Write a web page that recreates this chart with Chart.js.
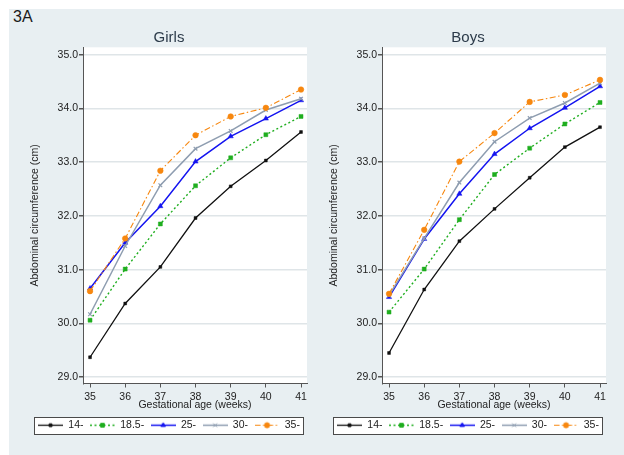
<!DOCTYPE html>
<html>
<head>
<meta charset="utf-8">
<script src="https://cdn.jsdelivr.net/npm/chart.js@4/dist/chart.umd.min.js"></script>
<style>
body { margin:0; background:#fff; width:624px; height:455px; overflow:hidden; position:relative; font-family:"Liberation Sans", Arial, sans-serif; }
#panel { position:absolute; left:9px; top:9px; width:615px; height:446px; background:#e8eff2; }
#tag { position:absolute; left:13px; top:8px; font-size:16px; color:#1a1a1a; }
canvas { position:absolute; top:9px; }
#girls { left:9px; }
#boys { left:308px; }
</style>
</head>
<body>
<div id="panel"></div>
<div id="tag">3A</div>
<canvas id="girls" width="307" height="446"></canvas>
<canvas id="boys" width="307" height="446"></canvas>
<script>
// gestational age on x, abdominal circumference (cm) on y
let weeks = [35, 36, 37, 38, 39, 40, 41];
let yTicks = [29, 30, 31, 32, 33, 34, 35];
let bmiGroups = ['14-', '18.5-', '25-', '30-', '35-'];

let girls14  = [29.37, 30.37, 31.05, 31.96, 32.55, 33.03, 33.56];
let girls185 = [30.06, 31.01, 31.85, 32.56, 33.08, 33.51, 33.85];
let girls25  = [30.65, 31.50, 32.18, 33.01, 33.48, 33.81, 34.15];
let girls30  = [30.17, 31.44, 32.57, 33.25, 33.58, 33.97, 34.18];
let girls35  = [30.60, 31.58, 32.84, 33.50, 33.85, 34.01, 34.35];

let boys14  = [29.45, 30.63, 31.53, 32.13, 32.71, 33.28, 33.65];
let boys185 = [30.21, 31.01, 31.93, 32.77, 33.26, 33.71, 34.11];
let boys25  = [30.49, 31.57, 32.41, 33.15, 33.63, 34.01, 34.41];
let boys30  = [30.52, 31.58, 32.62, 33.38, 33.82, 34.10, 34.47];
let boys35  = [30.55, 31.74, 33.01, 33.54, 34.12, 34.25, 34.53];

let styles = [
    {color: '#111111', dash: [], marker: 'rect', radius: 2, width: 1.3},
    {color: '#1fae1f', dash: [2, 2.5], marker: 'rect', radius: 2.8, width: 1.4},
    {color: '#1414f0', dash: [], marker: 'triangle', radius: 3, width: 1.5},
    {color: '#8e9db0', dash: [], marker: 'crossRot', radius: 2.6, width: 1.5},
    {color: '#f7870f', dash: [6, 2.5, 1.5, 2.5], marker: 'circle', radius: 2.8, width: 1.1}
];

const font = {family: '"Liberation Sans", Arial, sans-serif', size: 10.5};
const textColor = '#222';

function swatch(st) {
    var c = document.createElement('canvas');
    c.width = 25;
    c.height = 11;
    var g = c.getContext('2d');
    g.strokeStyle = st.color;
    g.fillStyle = st.color;
    g.lineWidth = st.width;
    g.setLineDash(st.dash);
    g.beginPath();
    g.moveTo(0, 5.5);
    g.lineTo(25, 5.5);
    g.stroke();
    g.setLineDash([]);
    g.lineWidth = 1;
    Chart.helpers.drawPoint(g, {pointStyle: st.marker, radius: Math.min(st.radius, 2.6), borderWidth: 1}, 12.5, 5.5);
    return c;
}
let swatches = styles.map(swatch);

const framePlugin = {
    id: 'frame',
    beforeDraw(chart) {
        const ctx = chart.ctx;
        const a = chart.chartArea;
        ctx.save();
        ctx.fillStyle = '#fff';
        ctx.fillRect(a.left, a.top, a.right - a.left, a.bottom - a.top);
        const hb = chart.legend.legendHitBoxes;
        if (hb && hb.length) {
            const first = hb[0], last = hb[hb.length - 1];
            const cy = first.top + first.height / 2;
            const x0 = Math.round(first.left - 4.5), x1 = Math.round(last.left + last.width + 3);
            const y0 = Math.round(cy - 8.6), y1 = Math.round(cy + 8.7);
            ctx.fillRect(x0, y0, x1 - x0, y1 - y0);
            ctx.strokeStyle = '#4a4a4a';
            ctx.lineWidth = 1;
            ctx.strokeRect(x0 + 0.5, y0 + 0.5, x1 - x0, y1 - y0);
        }
        ctx.restore();
    }
};

function makeChart(id, title, series) {
    var ctx = document.getElementById(id);
    return new Chart(ctx, {
        type: 'line',
        data: {
            datasets: series.map((vals, i) => {
                let st = styles[i];
                return {
                    label: bmiGroups[i],
                    data: weeks.map((w, j) => ({x: w, y: vals[j]})),
                    order: series.length - i,
                    borderColor: st.color,
                    backgroundColor: st.color,
                    borderWidth: st.width,
                    borderDash: st.dash,
                    tension: 0,
                    pointStyle: st.marker,
                    pointRadius: st.radius,
                    pointHoverRadius: st.radius,
                    pointBorderWidth: st.marker == 'crossRot' ? 1.2 : 0.5,
                    pointBackgroundColor: st.color,
                    pointBorderColor: st.color
                };
            })
        },
        options: {
            responsive: false,
            animation: false,
            layout: {padding: {left: 22, right: 9, top: 0, bottom: 14.5}},
            plugins: {
                tooltip: {enabled: false},
                title: {
                    display: true,
                    text: title,
                    color: '#2c3b4a',
                    font: {family: font.family, size: 15, weight: 'normal'},
                    padding: {top: 20.3, bottom: 0}
                },
                legend: {
                    position: 'bottom',
                    align: 'center',
                    onClick: null,
                    labels: {
                        usePointStyle: true,
                        pointStyleWidth: 25,
                        boxHeight: 10.5,
                        padding: 6.5,
                        color: textColor,
                        font: font,
                        generateLabels: chart => chart.data.datasets.map((ds, i) => ({
                            text: ds.label,
                            pointStyle: swatches[i],
                            datasetIndex: i,
                            hidden: false,
                            lineWidth: 0,
                            fillStyle: 'rgba(0,0,0,0)',
                            strokeStyle: 'rgba(0,0,0,0)',
                            fontColor: textColor
                        }))
                    }
                }
            },
            scales: {
                x: {
                    type: 'linear',
                    min: 34.8,
                    max: 41.17,
                    afterBuildTicks: s => { s.ticks = weeks.map(v => ({value: v})); },
                    afterFit: s => { s.height = 30; },
                    ticks: {padding: 3, color: textColor, font: font, callback: v => String(v)},
                    grid: {drawOnChartArea: false, tickLength: 4, tickColor: '#555'},
                    border: {color: '#555', width: 1},
                    title: {display: true, text: 'Gestational age (weeks)', color: textColor, font: font, padding: {top: 0, bottom: 2.2}}
                },
                y: {
                    min: 28.882,
                    max: 35.136,
                    afterBuildTicks: s => { s.ticks = yTicks.map(v => ({value: v})); },
                    afterFit: s => { s.width = 52; },
                    ticks: {padding: 1, color: textColor, font: font, callback: v => v.toFixed(1)},
                    grid: {color: '#dfe5e8', lineWidth: 1.5, tickLength: 4, tickColor: '#555'},
                    border: {color: '#555', width: 1},
                    title: {display: true, text: 'Abdominal circumference (cm)', color: textColor, font: font, padding: {top: -2.1, bottom: 0}}
                }
            }
        },
        plugins: [framePlugin]
    });
}

makeChart('girls', 'Girls', [girls14, girls185, girls25, girls30, girls35]);
makeChart('boys', 'Boys', [boys14, boys185, boys25, boys30, boys35]);
</script>
</body>
</html>
